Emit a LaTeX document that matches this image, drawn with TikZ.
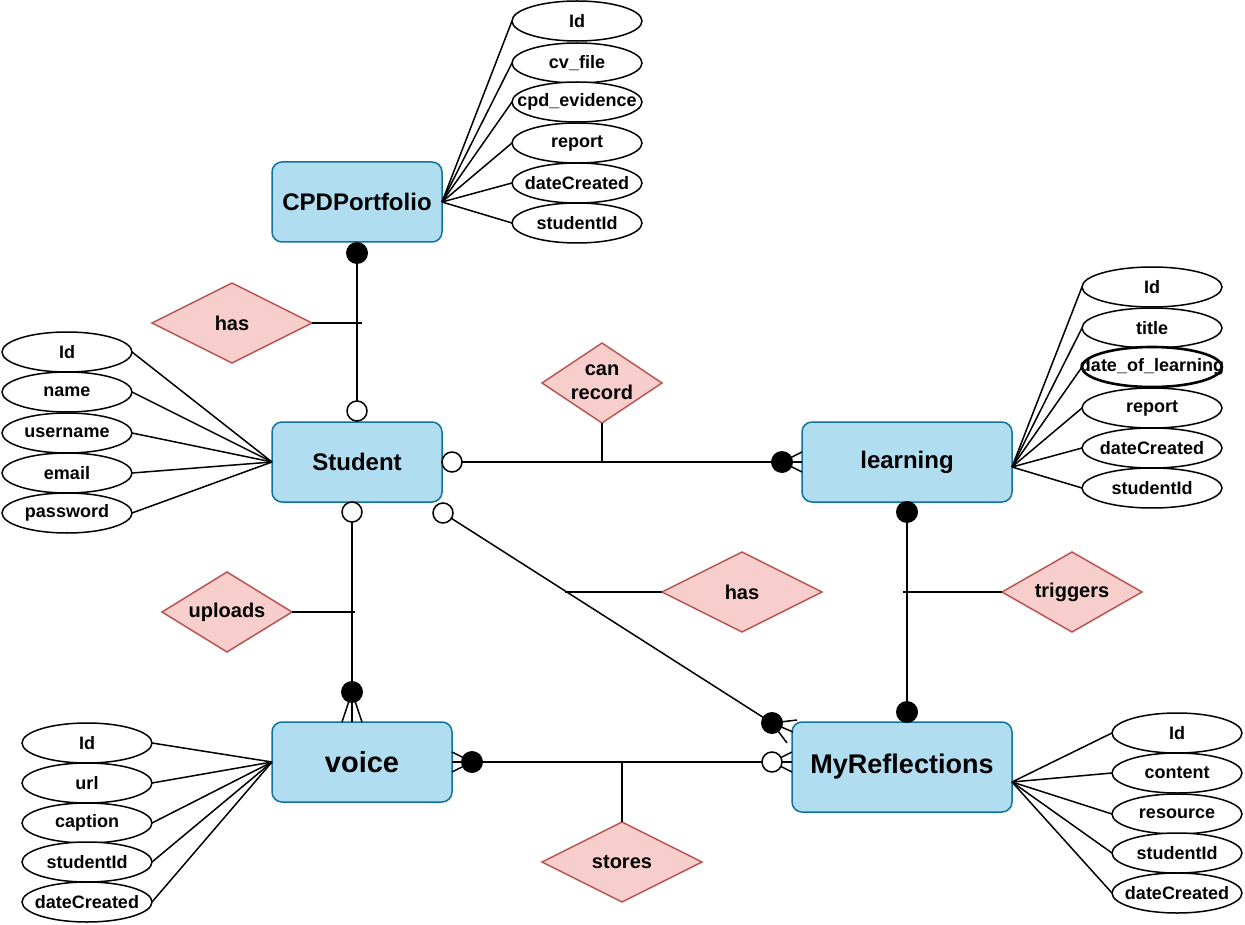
\documentclass[tikz,border=0pt]{standalone}
\usepackage{fontspec}
\setmainfont{Liberation Sans}
\usetikzlibrary{shapes.geometric,calc}
\definecolor{entfill}{HTML}{B1DDF0}
\definecolor{entline}{HTML}{10739E}
\definecolor{relfill}{HTML}{F8CECC}
\definecolor{relline}{HTML}{B85450}
% zero-width box: the shape size comes from the minimum sizes only
\newcommand{\zw}[1]{\makebox[0pt]{#1}}

\begin{document}
\begin{tikzpicture}[x=1pt,y=-1pt,line width=1.5pt,
  entity/.style={draw=entline,fill=entfill,rounded corners=10pt,inner sep=0pt,outer sep=0pt,
    font=\bfseries\fontsize{24}{28}\selectfont},
  attr/.style={ellipse,draw,fill=white,minimum width=130pt,minimum height=40pt,inner sep=0pt,outer sep=0pt,
    font=\bfseries\fontsize{18}{21}\selectfont},
  rel/.style={diamond,draw=relline,fill=relfill,inner sep=0pt,outer sep=0pt,minimum height=80pt,
    font=\bfseries\fontsize{20}{24}\selectfont},
  link/.style={draw=black,line width=1.5pt},
  one/.style={circle,fill=black,minimum size=22pt,inner sep=0pt},
  zero/.style={circle,draw=black,line width=1.5pt,fill=white,minimum size=20pt,inner sep=0pt},
]
\useasboundingbox (0,0) rectangle (1245,925);

% ---------- entities ----------
\node[entity,minimum width=170pt,minimum height=80pt] (cpd) at (357,202) {CPDPortfolio};
\node[entity,minimum width=170pt,minimum height=80pt] (stu) at (357,462) {Student};
\node[entity,minimum width=210pt,minimum height=80pt] (lrn) at (907,462) {learning};
\node[entity,minimum width=180pt,minimum height=80pt,font=\bfseries\fontsize{29}{34}\selectfont] (voi) at (362,762) {voice};
\node[entity,minimum width=220pt,minimum height=90pt,font=\bfseries\fontsize{27}{32}\selectfont] (mr) at (902,767) {MyReflections};

\coordinate (lhub) at ($(lrn.east)+(0,5)$);
\coordinate (mhub) at ($(mr.east)+(0,15)$);

% ---------- attributes ----------
\foreach \n/\y/\t in {c1/21/Id,c2/63/cv\_file,c3/102/cpd\_evidence,c4/143/report,c5/183/dateCreated,c6/223/studentId}{
  \draw[link] (cpd.east) -- (577-65,\y);
  \node[attr] (\n) at (577,\y) {\zw{\t}};
}
\foreach \n/\y/\t in {s1/352/Id,s2/392/name,s3/433/username,s4/473/email,s5/513/password}{
  \draw[link] (stu.west) -- (67+65,\y);
  \node[attr] (\n) at (67,\y) {\zw{\t}};
}
\foreach \n/\y/\t in {l1/287/Id,l2/328/title,l4/408/report,l5/448/dateCreated,l6/488/studentId}{
  \draw[link] (lhub) -- (1152-70,\y);
  \node[attr,minimum width=140pt] (\n) at (1152,\y) {\zw{\t}};
}
\draw[link] (lhub) -- (1152-70,367);
\node[attr,minimum width=140pt,line width=2.6pt] (l3) at (1152,367) {\zw{date\_of\_learning}};
\foreach \n/\y/\t in {v1/743/Id,v2/783/url,v3/823/caption,v4/862/studentId,v5/902/dateCreated}{
  \draw[link] (voi.west) -- (87+65,\y);
  \node[attr] (\n) at (87,\y) {\zw{\t}};
}
\foreach \n/\y/\t in {m1/733/Id,m2/773/content,m3/814/resource,m4/853/studentId,m5/893/dateCreated}{
  \draw[link] (mhub) -- (1177-65,\y);
  \node[attr] (\n) at (1177,\y) {\zw{\t}};
}

% ---------- relationships ----------
\node[rel,minimum width=160pt] (hasA) at (232,323) {\zw{has}};
\node[rel,minimum width=120pt] (canrec) at (602,383)
  {\zw{\raisebox{-4pt}{\begin{tabular}{@{}c@{}}can\\[0pt]record\end{tabular}}}};
\node[rel,minimum width=130pt] (upl) at (227,612) {\zw{uploads}};
\node[rel,minimum width=160pt] (hasB) at (742,592) {\zw{has}};
\node[rel,minimum width=140pt] (trg) at (1072,592) {\zw{triggers}};
\node[rel,minimum width=160pt] (sto) at (622,862) {\zw{stores}};

% ---------- CPDPortfolio -- Student ----------
\draw[link] (cpd.south) -- (stu.north);
\draw[link] (hasA.east) -- ++(50,0);
\node[one] (e1) at ([yshift=-11pt]cpd.south) {};
\node[zero] (e2) at ([yshift=11pt]stu.north) {};

% ---------- Student -- learning ----------
\draw[link] (stu.east) -- (lrn.west);
\draw[link] (canrec.south) -- (canrec.south |- stu.east);
\coordinate (f1) at ([xshift=-20pt]lrn.west);
\draw[link] (f1) -- ([yshift=10pt]lrn.west) (f1) -- ([yshift=-10pt]lrn.west);
\node[one] (e3) at (f1) {};
\node[zero] (e4) at ([xshift=10pt]stu.east) {};

% ---------- Student -- voice ----------
\draw[link] ([xshift=-5pt]stu.south) -- ([xshift=-10pt]voi.north);
\draw[link] (upl.east) -- ++(63,0);
\coordinate (f2) at ([xshift=-10pt,yshift=30pt]voi.north);
\draw[link] (f2) -- ([xshift=-20pt]voi.north) (f2) -- (voi.north);
\node[one] (e5) at (f2) {};
\node[zero] (e6) at ([xshift=-5pt,yshift=-10pt]stu.south) {};

% ---------- Student -- MyReflections ----------
\coordinate (f3) at ([xshift=-20pt,yshift=-1pt]mr.north west);
\coordinate (g3) at ([xshift=1pt,yshift=-11pt]stu.south east);
\draw[link] (g3) -- (f3);
\draw[link] (hasB.west) -- ++(-97,0);
\draw[link] (f3) -- ([xshift=5pt,yshift=2pt]mr.north west)
            (f3) -- ([xshift=1pt,yshift=-10pt]mr.north west)
            (f3) -- ([xshift=-5pt,yshift=-21pt]mr.north west);
\node[one] (e7) at (f3) {};
\node[zero] (e8) at (g3) {};

% ---------- learning -- MyReflections ----------
\draw[link] (lrn.south) -- ([xshift=5pt]mr.north);
\draw[link] (trg.west) -- ++(-99,0);
\node[one] (e9) at ([yshift=-10pt]lrn.south) {};
\node[one] (e10) at ([xshift=5pt,yshift=10pt]mr.north) {};

% ---------- voice -- MyReflections ----------
\draw[link] (voi.east) -- ([yshift=5pt]mr.west);
\draw[link] (sto.north) -- (sto.north |- voi.east);
\coordinate (f4) at ([xshift=20pt]voi.east);
\draw[link] (f4) -- ([yshift=10pt]voi.east) (f4) -- ([yshift=-10pt]voi.east);
\node[one] (e11) at (f4) {};
\coordinate (f5) at ([xshift=-20pt,yshift=5pt]mr.west);
\draw[link] (f5) -- ([yshift=15pt]mr.west) (f5) -- ([yshift=-5pt]mr.west);
\node[zero] (e12) at (f5) {};
\end{tikzpicture}
\end{document}
